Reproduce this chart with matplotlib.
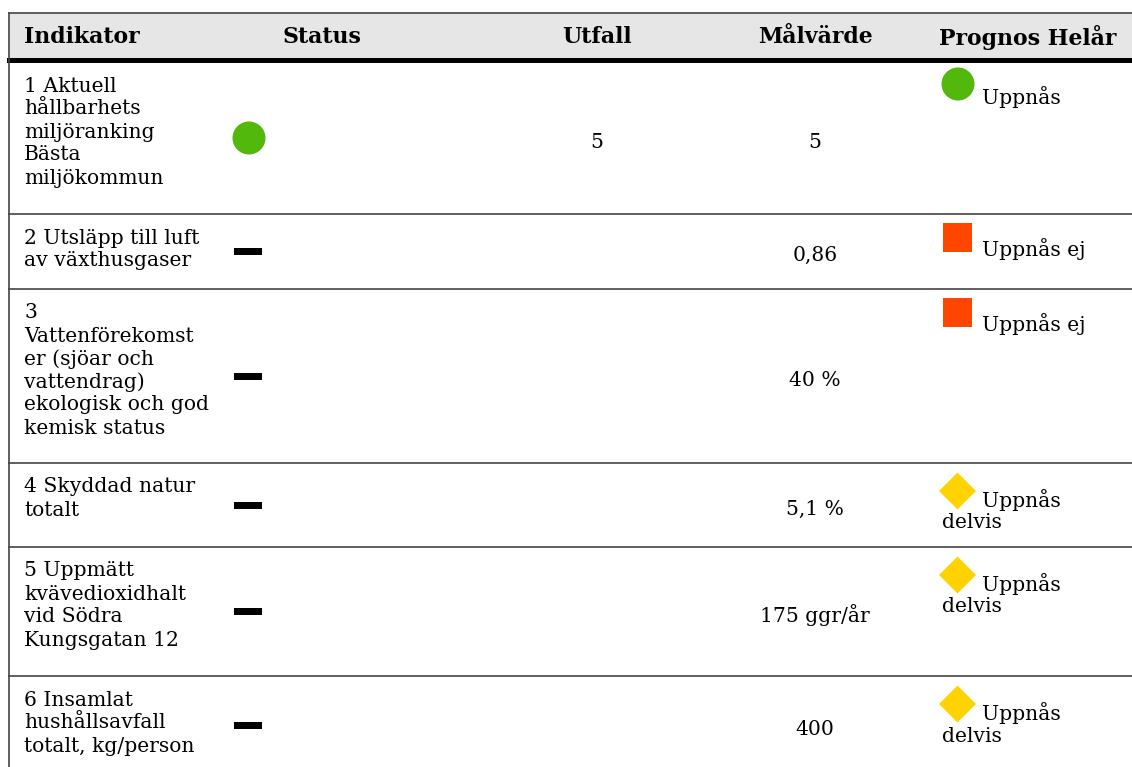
import matplotlib
matplotlib.use('Agg')
import matplotlib.pyplot as plt
from matplotlib.patches import Circle, Rectangle, Polygon

## Table content
headers = ['Indikator', 'Status', 'Utfall', 'Målvärde', 'Prognos Helår']
indikator = [
    ['1 Aktuell', 'hållbarhets', 'miljöranking', 'Bästa', 'miljökommun'],
    ['2 Utsläpp till luft', 'av växthusgaser'],
    ['3', 'Vattenförekomst', 'er (sjöar och', 'vattendrag)', 'ekologisk och god', 'kemisk status'],
    ['4 Skyddad natur', 'totalt'],
    ['5 Uppmätt', 'kvävedioxidhalt', 'vid Södra', 'Kungsgatan 12'],
    ['6 Insamlat', 'hushållsavfall', 'totalt, kg/person'],
]
status = ['gron', 'ingen', 'ingen', 'ingen', 'ingen', 'ingen']
utfall = ['5', '', '', '', '', '']
malvarde = ['5', '0,86', '40 %', '5,1 %', '175 ggr/år', '400']
prognos = ['Uppnås', 'Uppnås ej', 'Uppnås ej', 'Uppnås delvis', 'Uppnås delvis', 'Uppnås delvis']

## Layout (pixels)
W, H = 1132, 767
row_lines = [62, 214, 289, 463, 547, 676, 775]
header_x = [24, 322, 597, 815, 1028]
header_ha = ['left', 'center', 'center', 'center', 'center']
line_h = 23
font = 'DejaVu Serif'
fs = 14.6

GREEN = '#52b80c'
RED = '#ff4500'
YELLOW = '#ffd200'

fig = plt.figure(figsize=(W / 100, H / 100), dpi=100)
ax = fig.add_axes([0, 0, 1, 1])
ax.set_xlim(0, W)
ax.set_ylim(H, 0)
ax.axis('off')

## Header
ax.add_patch(Rectangle((9, 13), W, 45, facecolor='#e6e6e6', edgecolor='none'))
ax.plot([9, W], [13, 13], color='#444444', lw=1.2)
ax.plot([9, W], [59.5, 59.5], color='black', lw=3.6)
ax.plot([9, 9], [13, H], color='#444444', lw=1.2)
for txt, x, ha in zip(headers, header_x, header_ha):
    ax.text(x, 37, txt, ha=ha, va='center', fontsize=fs + 1.2,
            fontweight='bold', family=font)

## Rows
for i in range(len(indikator)):
    top, bot = row_lines[i], row_lines[i + 1]
    mid = (top + bot) / 2
    if i > 0:
        ax.plot([9, W], [top, top], color='#444444', lw=1.2)
    for j, line in enumerate(indikator[i]):
        ax.text(24, top + 24 + j * line_h, line, ha='left', va='center',
                fontsize=fs, family=font)
    if status[i] == 'gron':
        ax.add_patch(Circle((249, mid), 16.5, facecolor=GREEN, edgecolor='none'))
    else:
        ax.add_patch(Rectangle((234, mid - 3.5), 28, 7, facecolor='black',
                               edgecolor='none'))
    ax.text(597, mid + 4, utfall[i], ha='center', va='center',
            fontsize=fs, family=font)
    ax.text(815, mid + 4, malvarde[i], ha='center', va='center',
            fontsize=fs, family=font)
    p = prognos[i]
    if p == 'Uppnås':
        ax.add_patch(Circle((958, top + 22), 16.5, facecolor=GREEN, edgecolor='none'))
    elif p == 'Uppnås ej':
        ax.add_patch(Rectangle((943, top + 9), 29, 29, facecolor=RED, edgecolor='none'))
    else:
        cx, cy = 957.5, top + 28
        ax.add_patch(Polygon([(cx, cy - 18.5), (cx + 18.5, cy), (cx, cy + 18.5),
                              (cx - 18.5, cy)], facecolor=YELLOW, edgecolor='none'))
    words = p.split(' ')
    if p == 'Uppnås delvis':
        ax.text(982, top + 37, words[0], ha='left', va='center', fontsize=fs, family=font)
        ax.text(942, top + 60, words[1], ha='left', va='center', fontsize=fs, family=font)
    else:
        ax.text(982, top + 35, p, ha='left', va='center', fontsize=fs, family=font)

fig.savefig('out.png', dpi=100)
